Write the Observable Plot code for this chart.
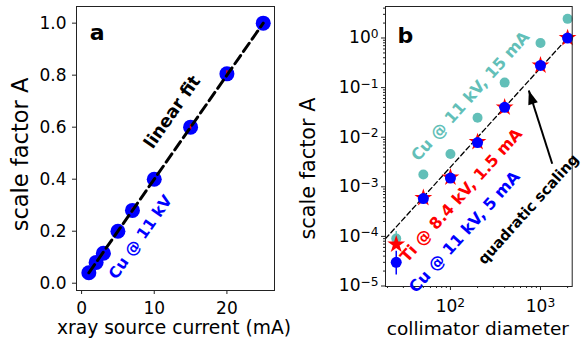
<!DOCTYPE html>
<html><head><meta charset="utf-8">
<script src="https://cdn.jsdelivr.net/npm/d3@7"></script>
<script src="https://cdn.jsdelivr.net/npm/@observablehq/plot@0.6"></script>
<style>
body{margin:0;background:#fff;}
#wrap{position:relative;width:583px;height:343px;overflow:hidden;font-family:"DejaVu Sans";}
#wrap svg{position:absolute;top:0;overflow:visible;background:transparent;}
</style></head><body><div id="wrap"></div>
<script>
// ---- Panel a data ----
const currentMA = [1, 2, 3, 5, 7, 10, 15, 20, 25];
const scaleA = [0.04, 0.08, 0.115, 0.2, 0.28, 0.40, 0.60, 0.805, 1.0];
const scaleAErr = [0, 0, 0.006, 0, 0.01, 0, 0.01, 0.012, 0];
const fitX = [1, 25];
const fitY = [0.04, 1.0];
const ticksAX = [0, 10, 20];
const ticksAY = [0, 0.2, 0.4, 0.6, 0.8, 1.0];

// ---- Panel b data ----
const diameter = [25, 50, 100, 200, 400, 1000, 2000];
const cu15 = [9.1e-5, 1.77e-3, 4.6e-3, 0.0247, 0.126, 0.79, 2.43];
const cu15Lo = [5.8e-5, 1.77e-3, 4.6e-3, 0.0247, 0.126, 0.79, 2.43];
const cu15Hi = [1.26e-4, 1.77e-3, 4.6e-3, 0.0247, 0.126, 0.79, 2.43];
const ti15 = [6.9e-5, 6.0e-4, 1.55e-3, 8.0e-3, 0.040, 0.28, 1.0];
const cu5 = [3.0e-5, 5.8e-4, 1.5e-3, 7.8e-3, 0.040, 0.28, 1.0];
const cu5Lo = [1.66e-5, 5.8e-4, 1.5e-3, 7.8e-3, 0.040, 0.28, 1.0];
const cu5Hi = [5.0e-5, 5.8e-4, 1.5e-3, 7.8e-3, 0.040, 0.28, 1.0];
const quadX = [19, 2000];
const quadY = [9.0e-5, 1.0];
const arrowTail = [1350, 2.91e-3];
const arrowHead = [742, 0.0875];
const ticksBX = [100, 1000];
const ticksBY = [1e-5, 1e-4, 1e-3, 1e-2, 1e-1, 1];

const BLUE = "#0000ff", RED = "#ff0000", CYAN = "#62bfb8";
const FONT = "DejaVu Sans";

const wrap = document.getElementById("wrap");

// ---------- Panel a ----------
const dataA = currentMA.map((x, i) => ({x, y: scaleA[i], lo: scaleA[i] - scaleAErr[i], hi: scaleA[i] + scaleAErr[i]}));
const fitA = fitX.map((x, i) => ({x, y: fitY[i]}));
const pa = Plot.plot({
  width: 290, height: 343,
  marginLeft: 76, marginRight: 16, marginTop: 6, marginBottom: 53,
  style: {fontFamily: FONT, fontSize: "17px", color: "#000", background: "transparent", overflow: "visible"},
  x: {domain: [-0.7, 26.55]},
  y: {domain: [-0.028, 1.064]},
  marks: [
    Plot.axisX(ticksAX, {tickSize: 4, tickPadding: 7.5, label: null, fontSize: 17, stroke: "#222"}),
    Plot.axisY(ticksAY, {tickSize: 4, tickPadding: 6, label: null, fontSize: 17, tickFormat: d3.format(".1f"), stroke: "#222"}),
    Plot.dot(dataA, {x: "x", y: "y", r: 7.5, fill: BLUE}),
    Plot.ruleX(dataA, {x: "x", y1: "lo", y2: "hi", stroke: RED, strokeWidth: 1.5}),
    Plot.line(fitA, {x: "x", y: "y", stroke: "black", strokeWidth: 3, strokeDasharray: "10,5"}),
    Plot.frame({stroke: "#222", strokeWidth: 1}),
    Plot.text(["a"], {x: [2.13], y: [0.962], fontSize: 22, fontWeight: "bold", fill: "black"}),
    Plot.text(["linear fit"], {x: [12.48], y: [0.658], fontSize: 17.5, fontWeight: "bold", rotate: -55, fill: "black"}),
    Plot.text(["Cu @ 11 kV"], {x: [8.12], y: [0.177], fontSize: 15.5, fontWeight: "bold", rotate: -55, fill: BLUE}),
    Plot.text(["scale factor A"], {frameAnchor: "left", textAnchor: "middle", lineAnchor: "middle", dx: -55.3, dy: 6, rotate: -90, fontSize: 22.5, fill: "black"}),
    Plot.text(["xray source current (mA)"], {frameAnchor: "bottom", textAnchor: "middle", lineAnchor: "middle", dx: -1.5, dy: 37.5, fontSize: 18.7, fill: "black"})
  ]
});
pa.style.left = "0px";
wrap.appendChild(pa);

// ---------- Panel b ----------
const minorBY = [];
for (let k = -6; k <= 0; k++) for (let m = 2; m <= 9; m++) minorBY.push(m * Math.pow(10, k));
const minorBX = [];
for (let k = 1; k <= 3; k++) for (let m = 2; m <= 9; m++) minorBX.push(m * Math.pow(10, k));
const supFmt = d => "10^" + Math.round(Math.log10(d)).toString().replace("-", "\u2212");

const rows = (ys, lo, hi) => diameter.map((x, i) => ({x, y: ys[i], lo: lo ? lo[i] : ys[i], hi: hi ? hi[i] : ys[i]}));
const dCu15 = rows(cu15, cu15Lo, cu15Hi);
const dTi = rows(ti15);
const dCu5 = rows(cu5, cu5Lo, cu5Hi);
const quad = quadX.map((x, i) => ({x, y: quadY[i]}));
const headSymbol = {draw(ctx) { ctx.moveTo(0, 0); ctx.lineTo(-5, 14); ctx.lineTo(5, 14); ctx.closePath(); }};
const ang = -Math.atan2(23.4, 73.3) * 180 / Math.PI;

const pb = Plot.plot({
  width: 293, height: 343,
  marginLeft: 95, marginRight: 11.3, marginTop: 6, marginBottom: 57,
  style: {fontFamily: FONT, fontSize: "17px", color: "#000", background: "transparent", overflow: "visible"},
  x: {type: "log", domain: [19, 2250]},
  y: {type: "log", domain: [Math.pow(10, -5.01), Math.pow(10, 0.635)]},
  marks: [
    Plot.axisX(minorBX.filter(v => v >= 19 && v <= 2250), {tickSize: 2, tickFormat: () => "", label: null, stroke: "#222"}),
    Plot.axisY(minorBY.filter(v => v >= 9.7e-6 && v <= 4.3), {tickSize: 2, tickFormat: () => "", label: null, stroke: "#222"}),
    Plot.axisX(ticksBX, {tickSize: 4, tickPadding: 9.5, label: null, fontSize: 17, tickFormat: supFmt, stroke: "#222"}),
    Plot.axisY(ticksBY, {tickSize: 4, tickPadding: 3, label: null, fontSize: 17, tickFormat: supFmt, stroke: "#222"}),
    Plot.line(quad, {x: "x", y: "y", stroke: "black", strokeWidth: 1.3, strokeDasharray: "5,3"}),
    Plot.ruleX(dCu15, {x: "x", y1: "lo", y2: "hi", stroke: CYAN, strokeWidth: 1.5}),
    Plot.dot(dCu15, {x: "x", y: "y", r: 5, fill: CYAN}),
    Plot.dot(dTi, {x: "x", y: "y", r: 5.6, symbol: "star", fill: RED}),
    Plot.ruleX(dCu5, {x: "x", y1: "lo", y2: "hi", stroke: BLUE, strokeWidth: 1.5}),
    Plot.dot(dCu5, {x: "x", y: "y", r: 5.5, fill: BLUE}),
    Plot.link([0], {x1: [arrowTail[0]], y1: [arrowTail[1]], x2: [arrowHead[0]], y2: [arrowHead[1]], stroke: "black", strokeWidth: 2}),
    Plot.dot([0], {x: [arrowHead[0]], y: [arrowHead[1]], symbol: headSymbol, fill: "black", stroke: "none", rotate: ang}),
    Plot.frame({stroke: "#222", strokeWidth: 1}),
    Plot.text(["b"], {x: [31.6], y: [1.12], fontSize: 22, fontWeight: "bold", fill: "black"}),
    Plot.text(["Cu @ 11 kV, 15 mA"], {x: [166.9], y: [0.0668], fontSize: 16, fontWeight: "bold", rotate: -48, fill: CYAN}),
    Plot.text(["Ti @ 8.4 kV, 1.5 mA"], {x: [131.8], y: [6.68e-4], fontSize: 16, fontWeight: "bold", rotate: -48, fill: RED}),
    Plot.text(["Cu @ 11 kV, 5 mA"], {x: [143.8], y: [1.22e-4], fontSize: 16, fontWeight: "bold", rotate: -48, fill: BLUE}),
    Plot.text(["quadratic scaling"], {x: [735], y: [3.5e-4], fontSize: 14.6, fontWeight: "bold", rotate: -48, fill: "black"}),
    Plot.text(["scale factor A"], {frameAnchor: "left", textAnchor: "middle", lineAnchor: "middle", dx: -76.7, dy: 22, rotate: -90, fontSize: 20.8, fill: "black"}),
    Plot.text(["collimator diameter"], {frameAnchor: "bottom", textAnchor: "middle", lineAnchor: "middle", dx: -1, dy: 42.5, fontSize: 18.5, fill: "black"})
  ]
});
pb.style.left = "290px";
wrap.appendChild(pb);

// superscript tick labels
d3.select(pb).selectAll("text").each(function() {
  const t = this.textContent;
  if (t.startsWith("10^")) {
    const exp = t.slice(3);
    const sel = d3.select(this);
    sel.text(null);
    sel.append("tspan").text("10");
    sel.append("tspan").attr("dy", "-0.45em").attr("font-size", "0.72em").text(exp);
  }
});
</script></body></html>
